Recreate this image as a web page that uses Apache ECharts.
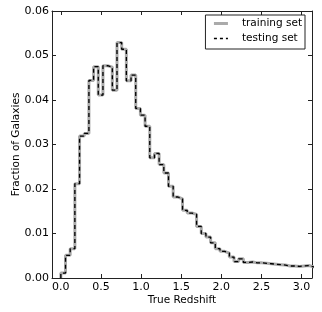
<!DOCTYPE html>
<html><head><meta charset="utf-8">
<script src="https://cdn.jsdelivr.net/npm/echarts@6/dist/echarts.min.js"></script>
<style>html,body{margin:0;padding:0;background:#fff}#c{width:322px;height:312px}</style>
</head><body><div id="c"></div>
<script>
// Histogram bins: 60 bins over [0, 3.5]
const binStart = 0;
const binWidth = 3.5 / 60;
// Fraction of galaxies per bin
const trainingValues = [
  0.0011, 0.0051, 0.0066, 0.0212, 0.0319, 0.0325, 0.0444, 0.0475, 0.0411, 0.0477,
  0.0474, 0.0422, 0.0529, 0.0514, 0.0443, 0.0456, 0.0381, 0.0366, 0.0341, 0.0270,
  0.0280, 0.0255, 0.0236, 0.0206, 0.0182, 0.0178, 0.0152, 0.0146, 0.0143, 0.0116,
  0.0100, 0.0092, 0.0079, 0.0066, 0.0060, 0.0056, 0.0047, 0.0037, 0.0043, 0.0035,
  0.0036, 0.0034, 0.0034, 0.0033, 0.0032, 0.0031, 0.0030, 0.0029, 0.0027, 0.0027,
  0.0026, 0.0027, 0.0028, 0.0025, 0.0024, 0.0023, 0.0022, 0.0021, 0.0020, 0.0019
];
const testingValues = trainingValues.slice();
const xTicks = [0.0, 0.5, 1.0, 1.5, 2.0, 2.5, 3.0];
const yTicks = [0.00, 0.01, 0.02, 0.03, 0.04, 0.05, 0.06];
const seriesNames = ['training set', 'testing set'];

function stepPoints(vals) {
  const pts = [[binStart, 0]];
  vals.forEach((v, i) => pts.push([binStart + i * binWidth, v]));
  pts.push([binStart + vals.length * binWidth, vals[vals.length - 1]]);
  pts.push([binStart + vals.length * binWidth, 0]);
  return pts;
}

const font = 'DejaVu Sans';
const axCol = '#222';
const xMin = -0.11, xMax = 3.13;
function xAxisCfg(pos, labels) {
  return {
    type: 'value', position: pos, min: xMin, max: xMax,
    axisLine: { show: true, onZero: false, lineStyle: { color: axCol, width: 1 } },
    axisTick: { show: true, inside: true, length: 4, customValues: xTicks, lineStyle: { color: axCol } },
    axisLabel: { show: labels, customValues: xTicks, color: '#000', fontFamily: font, fontSize: 11, margin: 4,
      formatter: v => v.toFixed(1) },
    splitLine: { show: false },
    name: labels ? 'True Redshift' : '', nameLocation: 'middle', nameGap: 17, nameMoveOverlap: false,
    nameTextStyle: { color: '#000', fontFamily: font, fontSize: 10.5 }
  };
}
function yAxisCfg(pos, labels) {
  return {
    type: 'value', position: pos, min: 0, max: 0.06,
    axisLine: { show: true, onZero: false, lineStyle: { color: axCol, width: 1 } },
    axisTick: { show: true, inside: true, length: 4, customValues: yTicks, lineStyle: { color: axCol } },
    axisLabel: { show: labels, customValues: yTicks, color: '#000', fontFamily: font, fontSize: 11, margin: 3,
      formatter: v => v.toFixed(2) },
    splitLine: { show: false },
    name: labels ? 'Fraction of Galaxies' : '', nameLocation: 'middle', nameGap: 30, nameMoveOverlap: false,
    nameTextStyle: { color: '#000', fontFamily: font, fontSize: 10.5 }
  };
}

const chart = echarts.init(document.getElementById('c'), null, { renderer: 'canvas' });
chart.setOption({
  animation: false,
  backgroundColor: '#fff',
  grid: { left: 52, right: 10, top: 11, bottom: 34, containLabel: false, outerBoundsMode: 'none' },
  xAxis: [xAxisCfg('bottom', true), xAxisCfg('top', false)],
  yAxis: [yAxisCfg('left', true), yAxisCfg('right', false)],
  legend: {
    orient: 'vertical', right: 17, top: 15,
    data: [
      { name: seriesNames[0], lineStyle: { color: '#aaaaaa', width: 3 } },
      { name: seriesNames[1], lineStyle: { color: '#000', width: 1.3, type: [3, 3] } }
    ],
    itemWidth: 14, itemHeight: 12, itemGap: 4,
    padding: [3, 3, 5, 7],
    borderColor: '#222', borderWidth: 1, backgroundColor: '#fff',
    itemStyle: { opacity: 0 },
    textStyle: { color: '#000', fontFamily: font, fontSize: 10.5, padding: [0, 0, 0, 9] }
  },
  series: [
    { name: seriesNames[0], type: 'line', step: 'end', data: stepPoints(trainingValues),
      symbol: 'none', clip: true, color: '#aaaaaa',
      lineStyle: { color: '#aaaaaa', width: 3 } },
    { name: seriesNames[1], type: 'line', step: 'end', data: stepPoints(testingValues),
      symbol: 'none', clip: true, color: '#000',
      lineStyle: { color: '#000', width: 1.3, type: [4, 3] } }
  ]
});
</script></body></html>
